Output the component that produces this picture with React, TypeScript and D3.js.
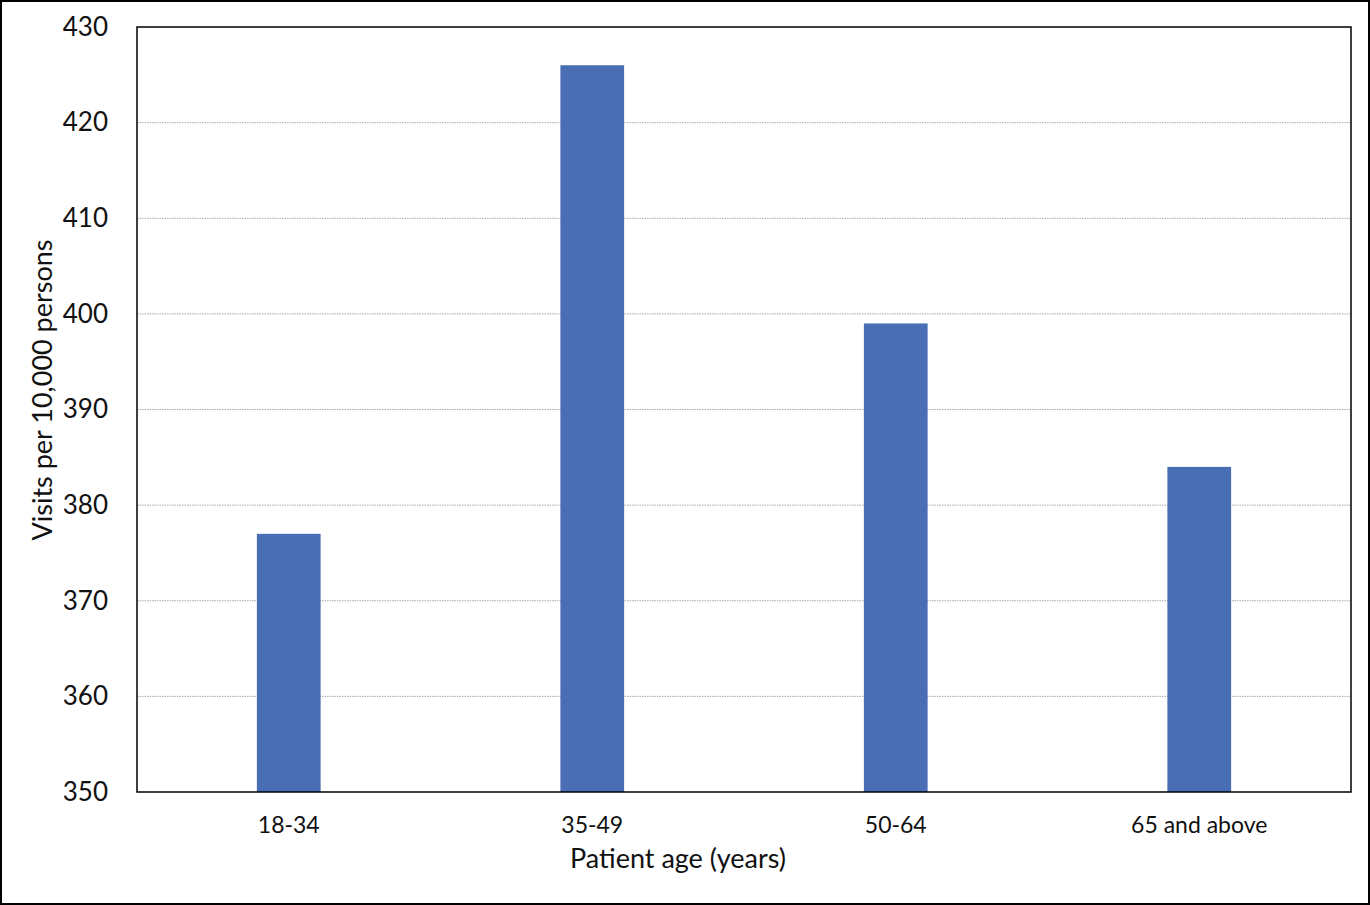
import React, { useEffect, useRef } from "react";
import * as d3 from "d3";

// Data
const CATEGORIES = ["18-34", "35-49", "50-64", "65 and above"];
const VALUES = [377, 426, 399, 384];
const Y_TICKS = [350, 360, 370, 380, 390, 400, 410, 420, 430];

const WIDTH = 1370;
const HEIGHT = 905;
const BAR_COLOR = "#4a6eb4";
const FONT = "Lato, 'Open Sans', sans-serif";

export default function App() {
    const svgRef = useRef<SVGSVGElement | null>(null);

    useEffect(() => {
        if (!svgRef.current) return;
        const svg = d3.select(svgRef.current);
        svg.selectAll("*").remove();

        const margin = { top: 27, right: 19, bottom: 113, left: 137 };
        const innerWidth = WIDTH - margin.left - margin.right;
        const innerHeight = HEIGHT - margin.top - margin.bottom;

        // outer frame
        svg.append("rect")
            .attr("x", 1).attr("y", 1)
            .attr("width", WIDTH - 2).attr("height", HEIGHT - 2)
            .attr("fill", "white").attr("stroke", "#000").attr("stroke-width", 2);

        const g = svg.append("g").attr("transform", `translate(${margin.left},${margin.top})`);

        const x = d3.scaleBand().domain(CATEGORIES).range([0, innerWidth]).paddingInner(0.79).paddingOuter(0.395);
        const y = d3.scaleLinear().domain([350, 430]).range([innerHeight, 0]);

        // gridlines (dotted)
        g.append("g")
            .selectAll("line")
            .data(Y_TICKS.slice(1, -1))
            .join("line")
            .attr("x1", 0).attr("x2", innerWidth)
            .attr("y1", d => y(d)).attr("y2", d => y(d))
            .attr("stroke", "#a8a8a8").attr("stroke-width", 1)
            .attr("stroke-dasharray", "1.5 1");

        // bars
        g.append("g")
            .selectAll("rect")
            .data(VALUES)
            .join("rect")
            .attr("x", (d, i) => x(CATEGORIES[i])!)
            .attr("width", x.bandwidth())
            .attr("y", d => y(d))
            .attr("height", d => innerHeight - y(d))
            .attr("fill", BAR_COLOR);

        // plot border
        g.append("rect")
            .attr("x", 0).attr("y", 0)
            .attr("width", innerWidth).attr("height", innerHeight)
            .attr("fill", "none").attr("stroke", "#000").attr("stroke-width", 1.5);

        // y axis labels
        const yAxis = g.append("g")
            .call(d3.axisLeft(y).tickValues(Y_TICKS).tickSize(0).tickPadding(29).tickFormat(d3.format("d")));
        yAxis.select(".domain").remove();
        yAxis.selectAll("text")
            .attr("font-family", FONT).attr("font-size", 26).attr("fill", "#111");

        // x axis labels
        const xAxis = g.append("g")
            .attr("transform", `translate(0,${innerHeight})`)
            .call(d3.axisBottom(x).tickSize(0).tickPadding(25));
        xAxis.select(".domain").remove();
        xAxis.selectAll("text")
            .attr("font-family", FONT).attr("font-size", 23).attr("fill", "#111");

        // axis titles
        svg.append("text")
            .attr("x", 678).attr("y", 868)
            .attr("text-anchor", "middle")
            .attr("font-family", FONT).attr("font-size", 27).attr("fill", "#111")
            .text("Patient age (years)");

        svg.append("text")
            .attr("transform", `translate(52,390) rotate(-90)`)
            .attr("text-anchor", "middle")
            .attr("font-family", FONT).attr("font-size", 27).attr("fill", "#111")
            .text("Visits per 10,000 persons");
    }, []);

    return (
        <svg
            ref={svgRef}
            width={WIDTH}
            height={HEIGHT}
            style={{ position: "absolute", left: 0, top: 0, background: "white" }}
        />
    );
}
